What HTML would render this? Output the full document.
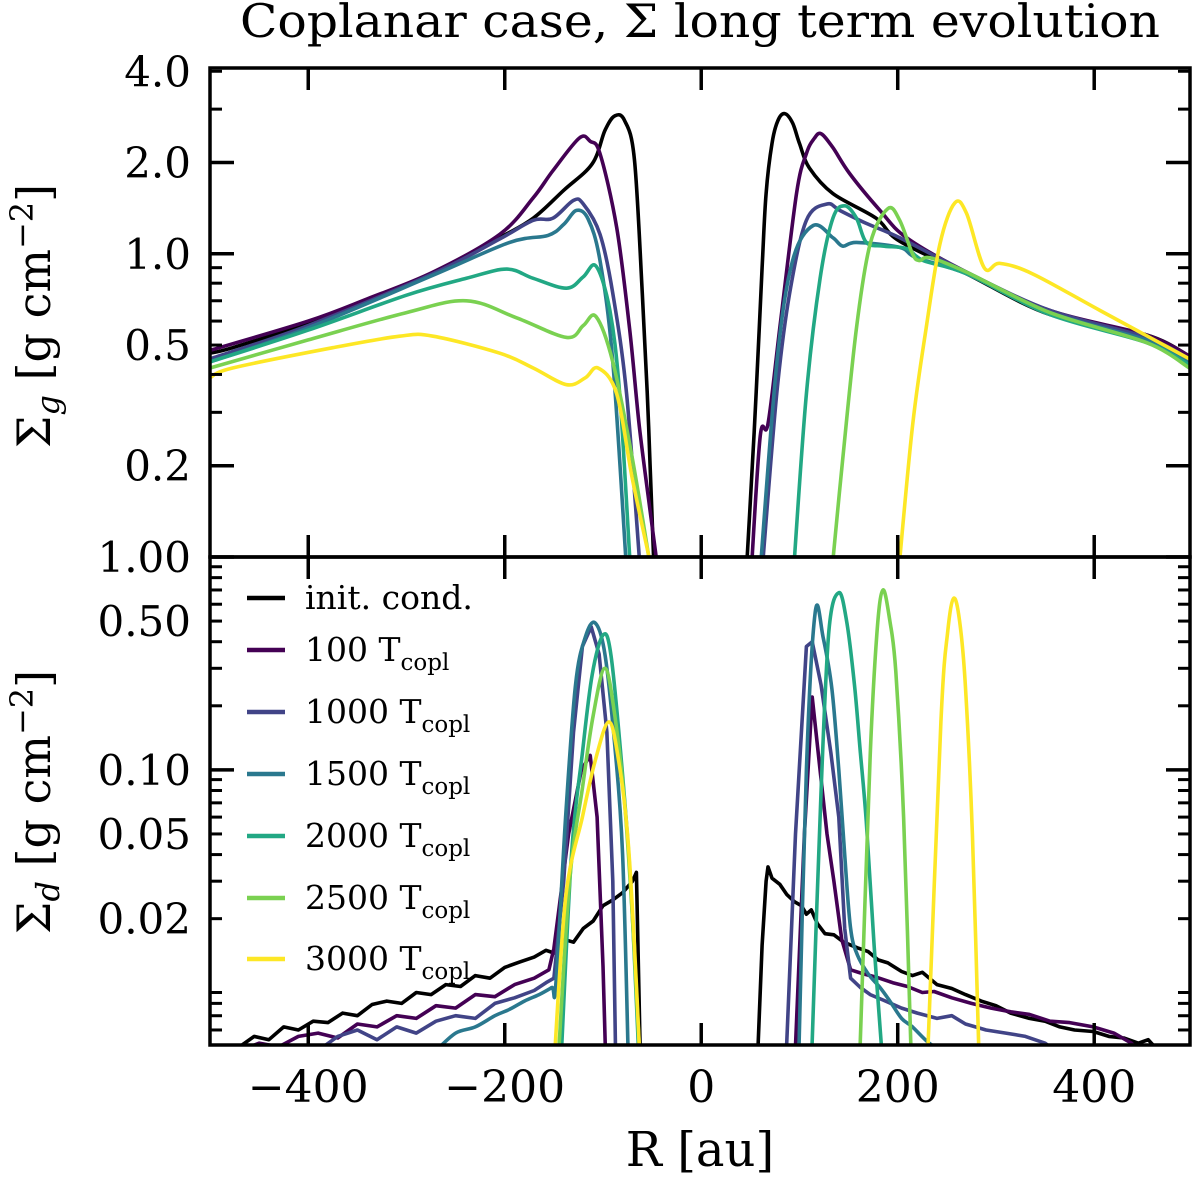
<!DOCTYPE html>
<html><head><meta charset="utf-8"><style>
html,body{margin:0;padding:0;background:#fff;}
svg{display:block;font-family:"DejaVu Serif","Liberation Serif",serif;}
</style></head><body>
<svg id="chart" width="1200" height="1178" viewBox="0 0 1200 1178" xmlns="http://www.w3.org/2000/svg">
<defs>
<clipPath id="clipTop"><rect x="210" y="68" width="980" height="489"/></clipPath>
<clipPath id="clipBot"><rect x="210" y="557" width="980" height="488"/></clipPath>
</defs>
<text x="700" y="37" font-size="46" text-anchor="middle" textLength="920" lengthAdjust="spacingAndGlyphs">Coplanar case, Σ long term evolution</text>
<g id="gTop"></g>
<g id="gBot"></g>
<text transform="translate(50,316) rotate(-90)" font-size="46" text-anchor="middle">Σ<tspan font-style="italic" font-size="32" dy="9">g</tspan><tspan dy="-9"> [g cm</tspan><tspan font-size="32" dy="-17">−2</tspan><tspan dy="17">]</tspan></text>
<text transform="translate(50,802) rotate(-90)" font-size="46" text-anchor="middle">Σ<tspan font-style="italic" font-size="32" dy="9">d</tspan><tspan dy="-9"> [g cm</tspan><tspan font-size="32" dy="-17">−2</tspan><tspan dy="17">]</tspan></text>
<text x="700" y="1166" font-size="48" text-anchor="middle">R [au]</text>
<g id="legend"></g>
</svg>
<script>
// axis ranges
const xDomain = [-500, 497.5];
const topDomain = [0.1, 4.1];
const botDomain = [0.0051, 1.0];
const xTicks = [-400, -200, 0, 200, 400];
const xTickLabels = ["−400", "−200", "0", "200", "400"];
const topTickVals = [4.0, 2.0, 1.0, 0.5, 0.2, 0.1];
const topTickLabels = ["4.0", "2.0", "1.0", "0.5", "0.2", "1.00"];
const botTickVals = [0.5, 0.1, 0.05, 0.02];
const botTickLabels = ["0.50", "0.10", "0.05", "0.02"];
const seriesNames = ["init. cond.", "100", "1000", "1500", "2000", "2500", "3000"];
const seriesColors = ["#000000", "#440154", "#414487", "#2a788e", "#22a884", "#7ad151", "#fde725"];

// gas
const gasInitLR = [-500,-477,-400,-340,-273,-205,-171,-140,-111,-98,-88,-78,-68,-60,-55,-52,-48];
const gasInitLV = [0.47,0.49,0.59,0.70,0.86,1.13,1.31,1.62,1.98,2.55,2.85,2.75,2.05,0.74,0.35,0.2,0.09];
const gasInitRR = [46,52,56,62,66,72,78,85,93,100,110,134,178,202,270,355,453,497];
const gasInitRV = [0.09,0.2,0.35,0.9,1.58,2.31,2.75,2.9,2.7,2.31,1.92,1.58,1.31,1.10,0.86,0.63,0.54,0.46];
const gas100LR = [-500,-400,-340,-273,-205,-171,-151,-124,-113,-103,-86,-73,-63,-52,-44];
const gas100LV = [0.48,0.60,0.71,0.87,1.16,1.53,1.88,2.41,2.35,2.14,1.22,0.57,0.27,0.142,0.09];
const gas100RR = [51,60,68,80,97,107,115,122,134,151,182,209,270,355,453,497];
const gas100RV = [0.09,0.25,0.275,0.57,1.58,2.14,2.4,2.49,2.24,1.84,1.39,1.13,0.87,0.65,0.54,0.46];
const gas1000LR = [-500,-400,-273,-205,-171,-151,-130,-120,-103,-90,-76,-62];
const gas1000LV = [0.45,0.58,0.86,1.12,1.29,1.31,1.50,1.46,1.16,0.74,0.345,0.09];
const gas1000RR = [62,77,90,107,128,141,168,202,270,355,453,497];
const gas1000RV = [0.09,0.35,0.74,1.29,1.46,1.39,1.26,1.13,0.87,0.65,0.53,0.45];
const gas1500LR = [-500,-400,-273,-195,-156,-140,-127,-115,-103,-90,-76];
const gas1500LV = [0.44,0.57,0.85,1.09,1.15,1.25,1.39,1.30,0.95,0.44,0.09];
const gas1500RR = [60,77,93,114,134,144,158,202,219,270,355,453,497];
const gas1500RV = [0.09,0.44,0.95,1.24,1.13,1.06,1.09,1.05,0.97,0.86,0.64,0.52,0.44];
const gas2000LR = [-500,-400,-300,-239,-198,-171,-137,-120,-107,-93,-83,-72];
const gas2000LV = [0.44,0.56,0.73,0.83,0.89,0.83,0.77,0.84,0.91,0.65,0.345,0.09];
const gas2000RR = [94,107,121,134,146,158,168,185,209,226,270,355,453,497];
const gas2000RV = [0.09,0.345,0.83,1.31,1.44,1.31,1.09,1.06,1.04,0.95,0.86,0.63,0.51,0.43];
const gas2500LR = [-500,-400,-300,-239,-188,-137,-120,-107,-90,-70,-51];
const gas2500LV = [0.42,0.52,0.64,0.70,0.615,0.53,0.58,0.62,0.44,0.21,0.09];
const gas2500RR = [133,144,158,172,190,202,215,222,233,270,355,453,497];
const gas2500RV = [0.09,0.21,0.57,1.08,1.41,1.29,1.0,0.95,0.97,0.87,0.64,0.51,0.42];
const gas3000LR = [-500,-477,-375,-307,-273,-205,-171,-137,-118,-105,-86,-70,-50];
const gas3000LV = [0.39,0.42,0.49,0.535,0.535,0.47,0.42,0.37,0.39,0.42,0.345,0.18,0.09];
const gas3000RR = [201,215,229,243,258,270,288,304,337,406,497];
const gas3000RV = [0.09,0.27,0.57,1.08,1.47,1.36,0.90,0.93,0.86,0.65,0.45];

// dust
const dustInitLR = [-470,-455,-440,-425,-410,-395,-380,-365,-350,-335,-320,-305,-290,-275,-260,-245,-230,-215,-200,-185,-170,-158,-150,-140,-130,-120,-110,-100,-90,-80,-70,-66,-62];
const dustInitLV = [0.0050,0.0056,0.0054,0.0062,0.0060,0.0066,0.0065,0.0072,0.0070,0.0079,0.0082,0.0080,0.0090,0.0088,0.0098,0.0096,0.0108,0.0105,0.0118,0.0125,0.0132,0.0142,0.0138,0.0160,0.0155,0.0180,0.0195,0.0230,0.0245,0.0265,0.0300,0.033,0.0045];
const dustInitRR = [57,62,66,68,72,80,87,95,102,107,112,118,126,135,145,159,170,180,190,204,215,225,240,255,269,285,300,315,334,350,365,380,399,415,430,445,455,465];
const dustInitRV = [0.004,0.015,0.03,0.035,0.031,0.029,0.026,0.024,0.023,0.021,0.022,0.019,0.017,0.0168,0.0155,0.0146,0.0140,0.0128,0.0124,0.0113,0.0108,0.0112,0.0098,0.0094,0.0088,0.0082,0.0078,0.0072,0.0068,0.0066,0.0062,0.0060,0.0059,0.0056,0.0055,0.0052,0.0054,0.0048];
const dust100LR = [-470,-450,-430,-410,-390,-370,-350,-330,-310,-290,-270,-250,-230,-210,-190,-170,-155,-150,-135,-122,-113,-106,-100,-97];
const dust100LV = [0.0048,0.0052,0.0050,0.0056,0.0058,0.0055,0.0064,0.0062,0.0070,0.0068,0.0078,0.0076,0.0088,0.0086,0.0098,0.0105,0.0115,0.0145,0.05,0.1,0.117,0.06,0.012,0.004];
const dust100RR = [95,105,113,120,128,135,143,152,165,179,195,210,225,237,255,275,295,315,334,355,375,399,420,438,445];
const dust100RV = [0.004,0.05,0.22,0.11,0.05,0.03,0.016,0.0115,0.0110,0.0106,0.0100,0.0096,0.0090,0.0091,0.0085,0.0080,0.0076,0.0073,0.0071,0.0066,0.0065,0.0062,0.0058,0.0052,0.0048];
const dust1000LR = [-390,-370,-350,-330,-310,-290,-270,-250,-230,-210,-190,-170,-158,-150,-140,-130,-121,-112,-104,-96,-90,-87];
const dust1000LV = [0.0048,0.0056,0.0060,0.0054,0.0062,0.0058,0.0066,0.0070,0.0068,0.0080,0.0085,0.0092,0.0100,0.0105,0.03,0.15,0.38,0.47,0.35,0.15,0.03,0.004];
const dust1000RR = [86,96,107,113,122,132,140,146,152,162,172,185,204,220,240,255,269,290,310,330,350,360];
const dust1000RV = [0.004,0.05,0.38,0.40,0.25,0.12,0.06,0.018,0.0105,0.0095,0.0088,0.0083,0.0076,0.0072,0.0068,0.0070,0.0064,0.0060,0.0058,0.0056,0.0052,0.0048];
const dust1500LR = [-270,-250,-230,-210,-195,-180,-165,-152,-148,-138,-128,-118,-108,-98,-88,-80,-74];
const dust1500LV = [0.0048,0.0058,0.0062,0.0070,0.0075,0.0082,0.0088,0.0095,0.0098,0.06,0.25,0.42,0.49,0.35,0.13,0.04,0.004];
const dust1500RR = [99,107,116,124,133,140,146,152,159,170,182,192,204,215,232,245];
const dust1500RV = [0.004,0.1,0.55,0.42,0.24,0.10,0.04,0.018,0.0135,0.0110,0.0095,0.0082,0.0068,0.0062,0.0052,0.0048];
const dust2000LR = [-143,-132,-121,-111,-100,-92,-82,-72,-63];
const dust2000LV = [0.004,0.04,0.12,0.28,0.43,0.35,0.12,0.03,0.004];
const dust2000RR = [112,122,130,140,148,156,162,168,176,185];
const dust2000RV = [0.004,0.08,0.45,0.68,0.5,0.25,0.12,0.057,0.015,0.004];
const dust2500LR = [-146,-134,-121,-110,-98,-88,-78,-70,-62];
const dust2500LV = [0.004,0.03,0.082,0.18,0.30,0.18,0.07,0.02,0.004];
const dust2500RR = [161,172,179,185,192,198,206,214];
const dust2500RV = [0.004,0.117,0.45,0.70,0.5,0.29,0.06,0.004];
const dust3000LR = [-150,-138,-121,-108,-94,-84,-75,-68,-62];
const dust3000LV = [0.004,0.025,0.06,0.11,0.168,0.11,0.05,0.015,0.004];
const dust3000RR = [230,244,251,257,263,269,276,283];
const dust3000RV = [0.004,0.168,0.45,0.64,0.5,0.243,0.05,0.004];

const gasSeries = [
  [gasInitLR,gasInitLV,gasInitRR,gasInitRV],[gas100LR,gas100LV,gas100RR,gas100RV],
  [gas1000LR,gas1000LV,gas1000RR,gas1000RV],[gas1500LR,gas1500LV,gas1500RR,gas1500RV],
  [gas2000LR,gas2000LV,gas2000RR,gas2000RV],[gas2500LR,gas2500LV,gas2500RR,gas2500RV],
  [gas3000LR,gas3000LV,gas3000RR,gas3000RV]];
const dustSeries = [
  [dustInitLR,dustInitLV,dustInitRR,dustInitRV],[dust100LR,dust100LV,dust100RR,dust100RV],
  [dust1000LR,dust1000LV,dust1000RR,dust1000RV],[dust1500LR,dust1500LV,dust1500RR,dust1500RV],
  [dust2000LR,dust2000LV,dust2000RR,dust2000RV],[dust2500LR,dust2500LV,dust2500RR,dust2500RV],
  [dust3000LR,dust3000LV,dust3000RR,dust3000RV]];

const NS = "http://www.w3.org/2000/svg";
const PX0 = 210, PX1 = 1190;
const TOP0 = 68, TOP1 = 557, BOT0 = 557, BOT1 = 1045;
function xScale(r){ return PX0 + (r - xDomain[0]) / (xDomain[1] - xDomain[0]) * (PX1 - PX0); }
function logScale(dom, y0, y1){
  const a = Math.log10(dom[0]), b = Math.log10(dom[1]);
  return v => y1 - (Math.log10(v) - a) / (b - a) * (y1 - y0);
}
const yTop = logScale(topDomain, TOP0, TOP1);
const yBot = logScale(botDomain, BOT0, BOT1);

function mk(tag, attrs, parent){
  const e = document.createElementNS(NS, tag);
  for (const k in attrs) e.setAttribute(k, attrs[k]);
  parent.appendChild(e);
  return e;
}
function pathD(pts){
  let d = "M" + pts[0][0].toFixed(1) + "," + pts[0][1].toFixed(1);
  for (let i = 0; i < pts.length - 1; i++){
    const p0 = pts[Math.max(0,i-1)], p1 = pts[i], p2 = pts[i+1], p3 = pts[Math.min(pts.length-1,i+2)];
    const c1x = p1[0] + (p2[0]-p0[0])/6, c1y = p1[1] + (p2[1]-p0[1])/6;
    const c2x = p2[0] - (p3[0]-p1[0])/6, c2y = p2[1] - (p3[1]-p1[1])/6;
    d += "C" + c1x.toFixed(1) + "," + c1y.toFixed(1) + " " + c2x.toFixed(1) + "," + c2y.toFixed(1) + " " + p2[0].toFixed(1) + "," + p2[1].toFixed(1);
  }
  return d;
}

function drawPanel(g, series, yS, clip, prefix, smooth){
  const lg = mk("g", {"clip-path": "url(#" + clip + ")"}, g);
  series.forEach((s, i) => {
    for (let side = 0; side < 2; side++){
      const rs = s[side*2], vs = s[side*2+1];
      const pts = rs.map((r, j) => [xScale(r), yS(vs[j])]);
      const p = mk("path", {d: smooth[i] ? pathD(pts) : "M" + pts.map(q => q[0].toFixed(1) + "," + q[1].toFixed(1)).join("L"),
        fill: "none", stroke: seriesColors[i], "stroke-width": 3.6, "stroke-linejoin": "round"}, lg);
      
      
    }
  });
}

function drawFrame(g, y0, y1, yS, majors, minors, labelVals, labels, isBottom){
  const fr = mk("rect", {x: PX0, y: y0, width: PX1-PX0, height: y1-y0, fill: "none", stroke: "#000", "stroke-width": 3.5}, g);
  
  
  xTicks.forEach((t, i) => {
    const x = xScale(t);
    mk("line", {x1: x, x2: x, y1: y0, y2: y0 + 22, stroke: "#000", "stroke-width": 3.5}, g);
    mk("line", {x1: x, x2: x, y1: y1, y2: y1 - 22, stroke: "#000", "stroke-width": 3.5}, g);
    if (isBottom){
      const tl = mk("text", {x: x, y: 1102, "font-size": 44, "text-anchor": "middle"}, g);
      tl.textContent = xTickLabels[i];
      
      
    }
  });
  majors.forEach(v => {
    const y = yS(v);
    mk("line", {x1: PX0, x2: PX0 + 24, y1: y, y2: y, stroke: "#000", "stroke-width": 3.5}, g);
    mk("line", {x1: PX1, x2: PX1 - 24, y1: y, y2: y, stroke: "#000", "stroke-width": 3.5}, g);
  });
  minors.forEach(v => {
    const y = yS(v);
    if (y < y0 + 1 || y > y1 - 1) return;
    mk("line", {x1: PX0, x2: PX0 + 12, y1: y, y2: y, stroke: "#000", "stroke-width": 3}, g);
    mk("line", {x1: PX1, x2: PX1 - 12, y1: y, y2: y, stroke: "#000", "stroke-width": 3}, g);
  });
  labelVals.forEach((v, i) => {
    const t = mk("text", {x: 191, y: yS(v) + 15, "font-size": 42, "text-anchor": "end"}, g);
    t.textContent = labels[i];
    
    
  });
}

const gTop = document.getElementById("gTop"), gBot = document.getElementById("gBot");
drawPanel(gTop, gasSeries, yTop, "clipTop", "gas", [true,true,true,true,true,true,true]);
drawPanel(gBot, dustSeries, yBot, "clipBot", "dust", [false,false,false,true,true,true,true]);
drawFrame(gTop, TOP0, TOP1, yTop, [2.0, 1.0, 0.2], [3,4,0.9,0.8,0.7,0.6,0.5,0.4,0.3], topTickVals, topTickLabels, false);
drawFrame(gBot, BOT0, BOT1, yBot, [1.0, 0.1], [0.9,0.8,0.7,0.6,0.5,0.4,0.3,0.2,0.09,0.08,0.07,0.06,0.05,0.04,0.03,0.02,0.009,0.008,0.007,0.006], botTickVals, botTickLabels, true);

// legend
const leg = document.getElementById("legend");
const legY = [598, 650, 712, 774, 836, 898, 959];
seriesNames.forEach((n, i) => {
  const row = mk("g", {}, leg);
  
  
  mk("line", {x1: 247, x2: 285, y1: legY[i], y2: legY[i], stroke: seriesColors[i], "stroke-width": 4.5}, row);
  const t = mk("text", {x: 305, y: legY[i] + 11, "font-size": 33}, row);
  if (i === 0) { t.textContent = "init. cond."; }
  else {
    t.textContent = n + " T";
    const sub = mk("tspan", {"font-size": 23, dy: 9}, t);
    sub.textContent = "copl";
  }
});
</script>
</body></html>
